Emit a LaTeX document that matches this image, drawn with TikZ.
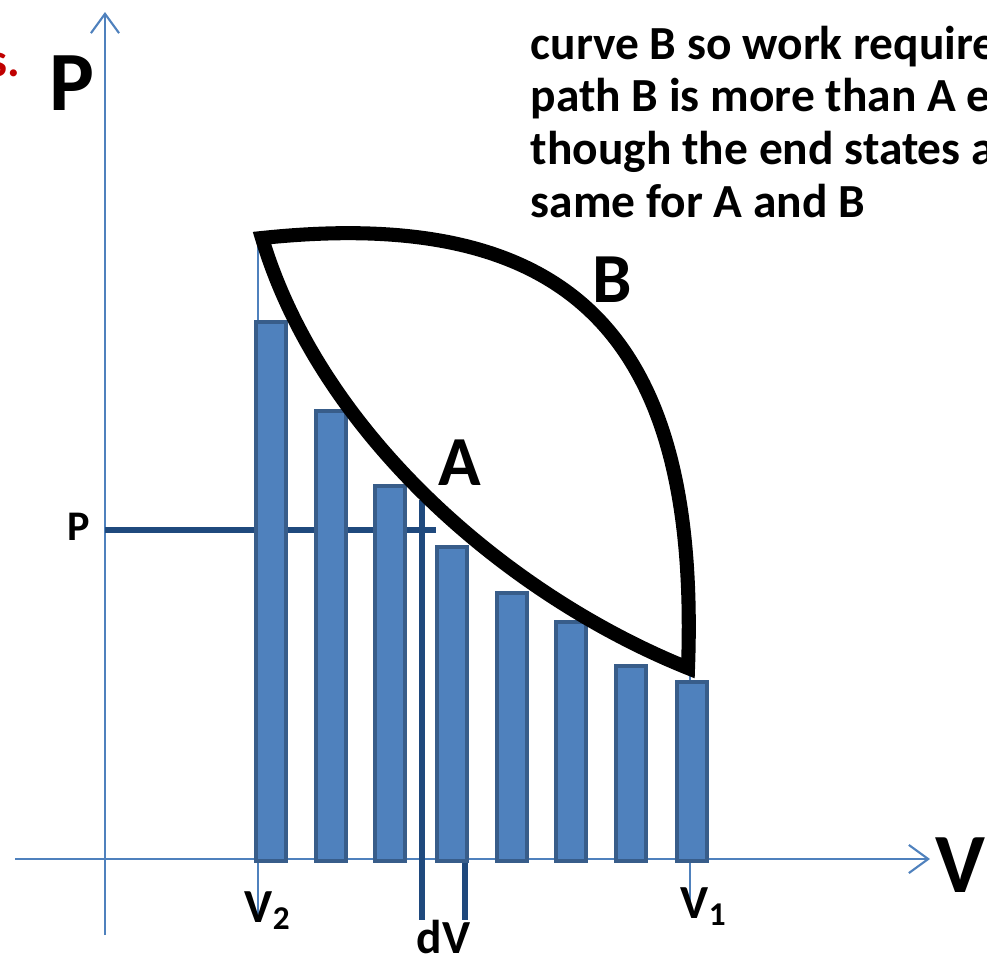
\documentclass[tikz,border=0pt]{standalone}
\usepackage{fontspec}
\setmainfont{Carlito}
\usetikzlibrary{arrows.meta,positioning,calc}

\definecolor{axisblue}{HTML}{4F81BD}
\definecolor{barfill}{HTML}{4F81BD}
\definecolor{baredge}{HTML}{385D8A}
\definecolor{guideblue}{HTML}{1F497D}
\definecolor{notered}{HTML}{C00000}

\tikzset{
  axisline/.style={axisblue,line width=0.6pt},
  axisarrow/.style={axisline,-{Straight Barb[length=5.5pt,width=8pt]}},
  barbox/.style={fill=barfill,draw=baredge,line width=1.1pt},
  guide/.style={guideblue,line width=1.6pt},
  pathcurve/.style={black,line width=4pt,line join=miter},
  lbl/.style={inner sep=0pt,font=\bfseries}
}

\begin{document}
\begin{tikzpicture}[x=0.01cm,y=-0.01cm]
    \useasboundingbox (0,0) rectangle (987,960);
    \clip (0,0) rectangle (987,960);

    % axes
    \coordinate (O) at (105,859);
    \coordinate (ybot) at (105,935);
    \coordinate (ytop) at (105,12);
    \coordinate (xleft) at (15,859);
    \coordinate (xright) at (930,859);
    \draw[axisline] (ybot) -- (O);
    \draw[axisarrow] (O) -- (ytop);
    \draw[axisarrow] (xleft) -- (xright);

    % end states
    \coordinate (S) at (262,238);
    \coordinate (E) at (688,668);
    \coordinate (v2end) at (258,915);
    \coordinate (v1end) at (690,908);
    \draw[axisline] (S -| v2end) -- (v2end);
    \draw[axisline] (E -| v1end) -- (v1end);

    % pressure line and dV strip
    \coordinate (pl) at (105,530);
    \coordinate (pr) at (436,530);
    \draw[guide] (pl) -- (pr);
    \coordinate (dva) at (422,500);
    \coordinate (dvb) at (465,545);
    \draw[guide] (dva) -- (dva |- 0,920);
    \draw[guide] (dvb) -- (dvb |- 0,920);

    % bars
    \foreach \x/\top in {256/322, 316/411, 375/486, 437/547, 497/593, 556/622, 616/666, 677/682}
        \draw[barbox] (\x,861) rectangle (\x+30,\top);

    % paths A and B
    \draw[pathcurve] (S) .. controls (321,435) and (509,596) .. (E)
        .. controls (700,340) and (575,205) .. (S) -- cycle;

    % labels
    \node[lbl,font=\bfseries\fontsize{24}{28}\selectfont,anchor=base west] (Plbl) at (49,110) {P};
    \node[lbl,font=\bfseries\fontsize{24}{28}\selectfont,anchor=base west] (Vlbl) at (935,892) {V};
    \node[lbl,font=\bfseries\fontsize{20}{24}\selectfont,anchor=base west] (Albl) at (438,485) {A};
    \node[lbl,font=\bfseries\fontsize{20}{24}\selectfont,anchor=base west] (Blbl) at (592,302) {B};
    \node[lbl,font=\bfseries\fontsize{12}{14}\selectfont,anchor=base west] (plbl) at (67,540) {P};
    \node[lbl,font=\bfseries\fontsize{13.5}{16}\selectfont,anchor=base west] (v2lbl) at (244,922) {V\textsubscript{2}};
    \node[lbl,font=\bfseries\fontsize{13.5}{16}\selectfont,anchor=base west] (v1lbl) at (680,918) {V\textsubscript{1}};
    \node[lbl,font=\bfseries\fontsize{13.5}{16}\selectfont,anchor=base west] (dvlbl) at (416,953) {dV};
    \node[lbl,font=\bfseries\fontsize{13.5}{16}\selectfont,text=notered,anchor=base east] (redtxt) at (21,76) {s.};
    \node[lbl,font=\bfseries\fontsize{13.5}{15}\selectfont,align=left,anchor=north west] (note) at (530,25)
        {curve B so work require\\path B is more than A e\\though the end states a\\same for A and B};
\end{tikzpicture}
\end{document}
